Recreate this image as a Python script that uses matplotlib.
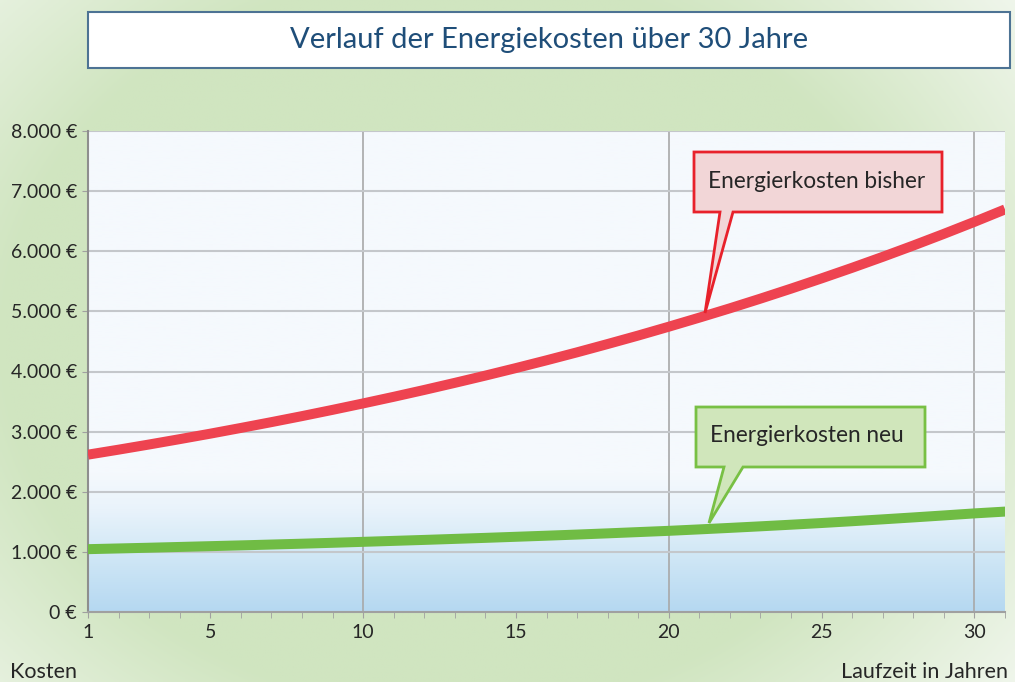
import numpy as np
import matplotlib
matplotlib.use("Agg")
import matplotlib.pyplot as plt
from matplotlib.patches import Rectangle, Polygon
from matplotlib.colors import to_rgb

plt.rcParams['font.family'] = ['Lato', 'DejaVu Sans']

# Data (Euro per year)
years = list(range(1, 32))
cost_old = [2617, 2700, 2786, 2875, 2966, 3061, 3158, 3258, 3362, 3469,
            3579, 3693, 3811, 3932, 4057, 4186, 4319, 4457, 4598, 4745,
            4896, 5051, 5212, 5378, 5549, 5725, 5907, 6095, 6289, 6489, 6696]
cost_new = [1045, 1057, 1069, 1082, 1095, 1108, 1122, 1136, 1151, 1167,
            1183, 1199, 1216, 1233, 1251, 1269, 1288, 1308, 1329, 1350,
            1374, 1399, 1425, 1452, 1480, 1510, 1541, 1573, 1606, 1640, 1670]
x_labels = [1, 5, 10, 15, 20, 25, 30]
y_ticks = list(range(0, 8001, 1000))
grid_years = [10, 20, 30]

W, H = 1015, 682
fig = plt.figure(figsize=(W / 100, H / 100), dpi=100)


def fx(x, y):
    # image pixel (top-left origin) -> figure fraction
    return (x / W, 1 - y / H)


# radial green background, lighter towards the corners
bg = fig.add_axes([0, 0, 1, 1], zorder=-10)
gx, gy = np.meshgrid(np.linspace(0, 1, 400), np.linspace(0, 1, 270))
r = np.sqrt(((gx - 0.45) / 0.62) ** 2 + ((gy - 0.5) / 0.75) ** 2)
t = np.clip((r - 0.72) / 0.4, 0, 1)
c0 = np.array(to_rgb('#d0e5c0'))
c1 = np.array(to_rgb('#f0f6ec'))
bg.imshow(c0 + (c1 - c0) * t[..., None], extent=(0, 1, 0, 1), aspect='auto', origin='lower')
bg.axis('off')

# plot area
ax = fig.add_axes([88 / W, 1 - 612 / H, (1005 - 88) / W, (612 - 131) / H])
yy = np.linspace(0, 8000, 400)
stops_y = [0, 1000, 1700, 2300, 8000]
stops_c = [to_rgb(c) for c in ['#b5d8f1', '#d2e8f6', '#e9f3fb', '#f5f9fd', '#f5f9fd']]
grad = np.stack([np.interp(yy, stops_y, [c[i] for c in stops_c]) for i in range(3)], axis=-1)
ax.imshow(grad[:, None, :], extent=(1, 31, 0, 8000), aspect='auto', origin='lower', zorder=0)

ax.set_xlim(1, 31)
ax.set_ylim(0, 8000)
ax.set_yticks(y_ticks)
ax.set_yticklabels([f"{v:,.0f} €".replace(",", ".") for v in y_ticks])
ax.set_xticks(x_labels)
ax.set_xticks(years, minor=True)
ax.yaxis.grid(True, color='#c4c7cb', lw=1.5, zorder=1)
ax.vlines(grid_years, 0, 8000, color='#a8a8a8', lw=1.2, zorder=1)

ax.plot(years, cost_old, color='#ee4350', lw=7.2, solid_capstyle='butt', zorder=3)
ax.plot(years, cost_new, color='#70bc44', lw=7.2, solid_capstyle='round', zorder=3)

for s in ['top', 'right']:
    ax.spines[s].set_visible(False)
ax.spines['left'].set_color('#8e8e8e')
ax.spines['left'].set_linewidth(1.5)
ax.spines['bottom'].set_color('#a0a0a0')
ax.spines['bottom'].set_linewidth(1.5)
ax.tick_params(axis='x', which='both', length=4, color='#a0a0a0', labelsize=14,
               pad=5, labelcolor='#262626')
ax.tick_params(axis='y', length=4, color='#a0a0a0', labelsize=14, pad=4,
               labelcolor='#262626')

fig.text(*fx(10, 672), 'Kosten', ha='left', va='center', fontsize=15.5, color='#262626')
fig.text(*fx(1008, 672), 'Laufzeit in Jahren', ha='right', va='center', fontsize=15.5,
         color='#262626')

# title box
fig.add_artist(Rectangle(fx(88, 68), 922 / W, 56 / H, transform=fig.transFigure,
                         fc='white', ec='#4d7394', lw=1.5, zorder=1))
fig.text(*fx(549, 40), 'Verlauf der Energiekosten über 30 Jahre', ha='center',
         va='center', fontsize=21, color='#1f4e79', zorder=2)

# callouts
red_pts = [(694, 152), (942, 152), (942, 212), (733, 212), (705, 313), (720, 212), (694, 212)]
fig.add_artist(Polygon([fx(*p) for p in red_pts], closed=True, transform=fig.transFigure,
                       fc='#f2d6d7', ec='#e8212b', lw=2, zorder=5))
fig.text(*fx(817, 181), 'Energierkosten bisher', ha='center', va='center', fontsize=16.3,
         color='#262626', zorder=6)

green_pts = [(696, 407), (925, 407), (925, 467), (743, 467), (709, 523), (724, 467), (696, 467)]
fig.add_artist(Polygon([fx(*p) for p in green_pts], closed=True, transform=fig.transFigure,
                       fc='#d0e6bb', ec='#78c044', lw=2, zorder=5))
fig.text(*fx(807, 436), 'Energierkosten neu', ha='center', va='center', fontsize=16.3,
         color='#262626', zorder=6)

fig.savefig('out.png', dpi=100)
